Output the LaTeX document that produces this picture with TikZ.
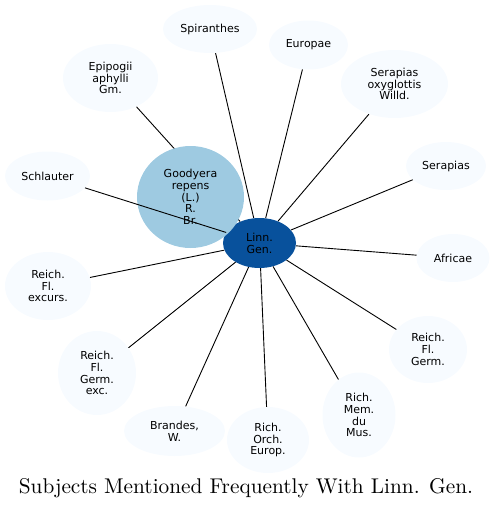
\documentclass[tikz,border=0pt]{standalone}
\usepackage{fontspec}
\setsansfont{DejaVu Sans}
\newfontfamily\titlefont{lmroman10-regular}[Extension=.otf]
\usetikzlibrary{shapes.geometric}
\pgfdeclarelayer{edges}
\pgfsetlayers{edges,main}
\definecolor{leaf}{HTML}{F7FBFF}
\definecolor{hub}{HTML}{08519C}
\definecolor{mid}{HTML}{9ECAE1}
\tikzset{
  bub/.style={ellipse, fill=leaf, inner sep=0pt, align=center,
    font=\sffamily\fontsize{11}{11.8}\selectfont, text=black},
  link/.style={draw=black, line width=0.9pt}
}
\begin{document}
\begin{tikzpicture}[x=1pt,y=-1pt]
\useasboundingbox (0,0) rectangle (495,509);
\node[bub, fill=hub, minimum width=73pt, minimum height=50pt] (hub) at (259.5,243) {Linn.\\Gen.};
\node[bub, fill=mid, minimum width=107pt, minimum height=102pt] (goo) at (190.5,197) {Goodyera\\repens\\(L.)\\R.\\Br.};
\node[bub, minimum width=94pt, minimum height=48pt] (spi) at (210,29) {Spiranthes};
\node[bub, minimum width=79pt, minimum height=49pt] (eur) at (308.5,45) {Europae};
\node[bub, minimum width=95pt, minimum height=68pt] (epi) at (110.5,78) {Epipogii\\aphylli\\Gm.};
\node[bub, minimum width=107pt, minimum height=68pt] (sox) at (394.5,84) {Serapias\\oxyglottis\\Willd.};
\node[bub, minimum width=85pt, minimum height=49pt] (sch) at (47.5,176) {Schlauter};
\node[bub, minimum width=80pt, minimum height=48pt] (ser) at (446,166) {Serapias};
\node[bub, minimum width=73pt, minimum height=48pt] (afr) at (453,258) {Africae};
\node[bub, minimum width=86pt, minimum height=68pt] (rfe) at (48,286) {Reich.\\Fl.\\excurs.};
\node[bub, minimum width=78pt, minimum height=67pt] (rfg) at (428,349.5) {Reich.\\Fl.\\Germ.};
\node[bub, minimum width=78pt, minimum height=84pt] (rfx) at (97,373) {Reich.\\Fl.\\Germ.\\exc.};
\node[bub, minimum width=101pt, minimum height=50pt] (bra) at (174.5,431) {Brandes,\\W.};
\node[bub, minimum width=82pt, minimum height=66pt] (roe) at (268,440) {Rich.\\Orch.\\Europ.};
\node[bub, minimum width=73pt, minimum height=85pt] (rmm) at (359,415) {Rich.\\Mem.\\du\\Mus.};
\begin{pgfonlayer}{edges}
\foreach \n in {goo,spi,eur,epi,sox,ser,afr,rfe,rfg,rfx,bra,roe,rmm}
  \draw[link] (hub) -- (\n);
\end{pgfonlayer}
\draw[link] (hub) -- (sch);
\node[font=\titlefont\fontsize{21.3}{25}\selectfont, inner sep=0pt] (title) at (246,488) {Subjects Mentioned Frequently With Linn. Gen.};
\end{tikzpicture}
\end{document}
